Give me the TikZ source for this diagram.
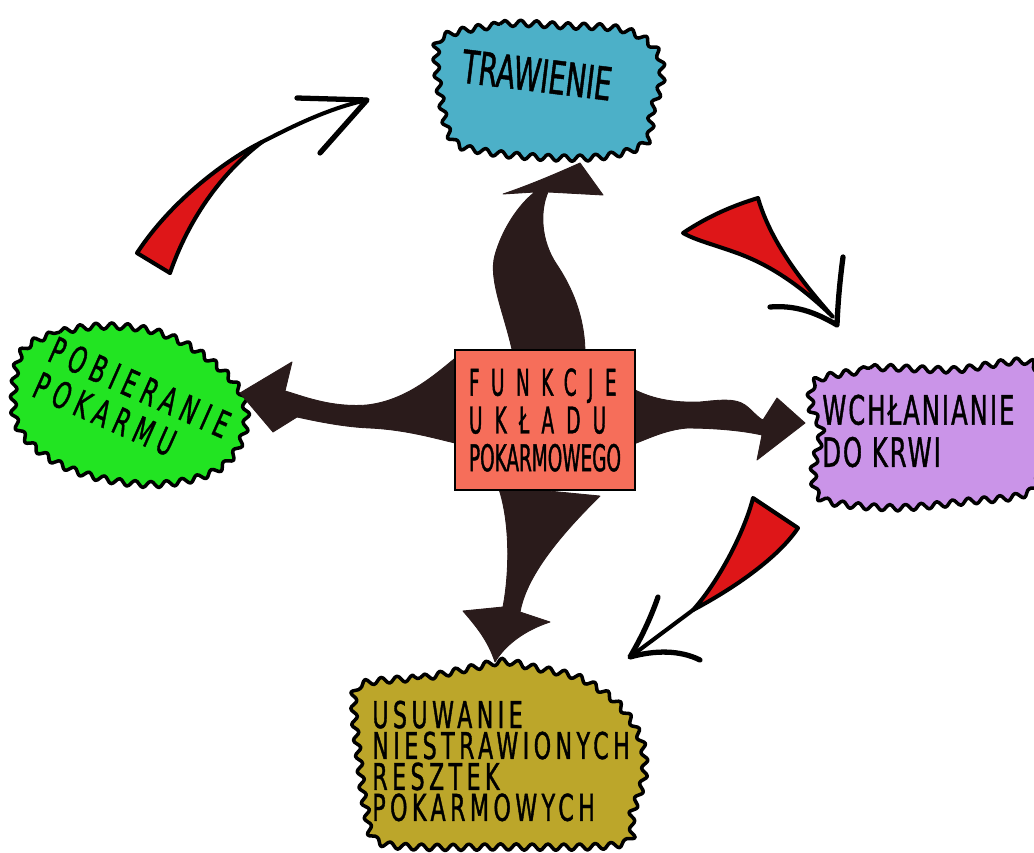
\documentclass[tikz,border=0pt]{standalone}
\usepackage{fontspec}
\newfontfamily\handfont[FakeStretch=0.6,FakeBold=1]{DejaVu Sans}
\newfontfamily\handnarrow[FakeStretch=0.5,FakeBold=1]{DejaVu Sans}
\usetikzlibrary{decorations.pathmorphing,calc,positioning}
\pgfdeclarelayer{background}
\pgfsetlayers{background,main}
\definecolor{blueblob}{RGB}{76,176,200}
\definecolor{greenblob}{RGB}{34,228,34}
\definecolor{violetblob}{RGB}{202,148,232}
\definecolor{oliveblob}{RGB}{188,166,42}
\definecolor{salmonbox}{RGB}{246,110,90}
\definecolor{darkstem}{RGB}{42,27,27}
\definecolor{redarrow}{RGB}{222,22,24}

\begin{document}
\begin{tikzpicture}[x=0.02cm,y=-0.02cm,
    blob/.style={draw=black,line width=2pt,line join=round,decorate,decoration={snake,segment length=9pt,amplitude=1.8pt}},
    stem/.style={fill=darkstem,draw=darkstem,line width=0.5pt,line join=round},
    wedge/.style={draw=black,line width=2.3pt,line join=round,line cap=round},
    barb/.style={draw=black,line width=3pt,line cap=round,line join=round},
    handtext/.style={inner sep=0pt,align=left,text=black}]
  \useasboundingbox (0,0) rectangle (1034,852);
  % Central box
  \node[draw,line width=1.2pt,fill=salmonbox,minimum width=3.6cm,minimum height=2.8cm,align=left,
        font=\handnarrow\fontsize{21}{21.5}\selectfont] (funkcje) at (545,420)
        {{\addfontfeature{LetterSpace=31}FUNKCJE}\\{\addfontfeature{LetterSpace=33}UKŁADU}\\POKARMOWEGO};
  % Texts in the blobs
  \node[handtext,rotate=-7,font=\handfont\fontsize{26}{30}\selectfont] (trawienie) at (537,75) {TRAWIENIE};
  \node[handtext,rotate=-24,font=\handfont\fontsize{21}{22}\selectfont\addfontfeature{LetterSpace=18}] (pobieranie) at (132,405) {POBIERANIE\\POKARMU};
  \node[handtext,anchor=west,font=\handfont\fontsize{23}{24}\selectfont\addfontfeature{LetterSpace=5}] (wchlanianie) at (822,431) {WCHŁANIANIE\\DO KRWI};
  \node[handtext,anchor=west,font=\handfont\fontsize{21}{17.6}\selectfont\addfontfeature{LetterSpace=12}] (usuwanie) at (372,761) {USUWANIE\\NIESTRAWIONYCH\\RESZTEK\\POKARMOWYCH};
  \begin{pgfonlayer}{background}
    % Blobs
    \draw[blob,fill=blueblob] plot[smooth cycle,tension=0.6] coordinates {(440,35) (500,24) (560,26) (620,30) (652,50) (658,80) (648,112) (642,143) (600,157) (540,158) (480,152) (448,140) (436,95) (432,55)};
    \draw[blob,fill=greenblob] plot[smooth cycle,tension=0.6] coordinates {(20,350) (60,332) (110,327) (160,335) (205,360) (238,395) (240,435) (215,470) (160,485) (100,480) (50,462) (15,430) (10,390)};
    \draw[blob,fill=violetblob] plot[smooth cycle,tension=0.5] coordinates {(813,378) (870,368) (950,370) (1030,364) (1036,430) (1030,490) (960,502) (890,508) (820,500) (810,470) (818,430) (807,405)};
    \draw[blob,fill=oliveblob] plot[smooth cycle,tension=0.5] coordinates {(357,685) (420,678) (470,668) (500,662) (530,668) (575,678) (610,700) (630,725) (640,750) (640,780) (628,815) (618,845) (500,848) (380,845) (362,810) (355,760) (350,710)};
    % Stems from the box
    \draw[stem] ($(funkcje.north)+(-32,5)$) .. controls (505,315) and (488,280) .. (495,255)
      .. controls (502,230) and (518,205) .. (535,192) -- (503,194) .. controls (530,185) and (560,172) .. (580,163)
      -- (603,195) -- (548,192) .. controls (540,210) and (540,240) .. (557,265)
      .. controls (577,295) and (585,325) .. ($(funkcje.north)+(40,5)$) -- cycle;
    \draw[stem] ($(funkcje.north west)+(10,2)$) .. controls (440,370) and (410,400) .. (367,405)
      .. controls (330,408) and (300,395) .. (285,391) -- (292,362) -- (240,393) -- (273,432) -- (297,417)
      .. controls (320,422) and (345,427) .. (370,428) .. controls (410,430) and (440,440) .. ($(funkcje.west)+(10,25)$) -- cycle;
    \draw[stem] ($(funkcje.east)+(-5,-32)$) .. controls (650,398) and (670,403) .. (700,402)
      .. controls (720,400) and (735,398) .. (745,405) .. controls (752,410) and (758,418) .. (763,420)
      -- (777,398) -- (805,423) -- (757,460) -- (762,435) .. controls (740,430) and (710,428) .. (687,428)
      .. controls (665,430) and (650,438) .. ($(funkcje.east)+(-5,25)$) -- cycle;
    \draw[stem] ($(funkcje.south)+(-47,-5)$) .. controls (510,520) and (510,570) .. (503,607) -- (463,611)
      .. controls (475,625) and (488,640) .. (495,662) .. controls (505,645) and (525,630) .. (550,622)
      -- (520,612) .. controls (525,585) and (545,550) .. ($(funkcje.south)+(55,5)$) -- cycle;
  \end{pgfonlayer}
  % Red arrows
  \fill[redarrow] (137,253) .. controls (175,195) and (235,155) .. (262,142) .. controls (225,170) and (190,215) .. (170,273) -- cycle;
  \draw[wedge] (170,273) -- (137,253) .. controls (175,195) and (235,155) .. (262,142) .. controls (295,125) and (330,108) .. (367,100);
  \draw[wedge] (170,273) .. controls (190,215) and (225,170) .. (262,142);
  \draw[barb] (297,98) -- (367,100) -- (320,153);
  \fill[redarrow] (683,233) .. controls (710,215) and (735,205) .. (758,198) .. controls (770,240) and (800,280) .. (833,317)
    .. controls (800,285) and (770,265) .. (737,253) .. controls (715,245) and (695,240) .. (683,233) -- cycle;
  \draw[wedge] (683,233) .. controls (710,215) and (735,205) .. (758,198) .. controls (770,240) and (800,280) .. (833,317)
    .. controls (800,285) and (770,265) .. (737,253) .. controls (715,245) and (695,240) .. (683,233) -- cycle;
  \draw[barb] (770,307) .. controls (795,305) and (815,312) .. (837,325) .. controls (838,300) and (840,280) .. (843,257);
  \fill[redarrow] (753,498) -- (798,528) .. controls (780,555) and (740,585) .. (693,610) .. controls (720,580) and (745,530) .. (753,498) -- cycle;
  \draw[wedge] (753,498) -- (798,528) .. controls (780,555) and (740,585) .. (693,610) .. controls (720,580) and (745,530) .. (753,498) -- cycle;
  \draw[wedge] (693,610) -- (630,657);
  \draw[barb] (658,597) .. controls (650,620) and (640,640) .. (630,657) .. controls (655,650) and (680,650) .. (700,660);
\end{tikzpicture}
\end{document}
